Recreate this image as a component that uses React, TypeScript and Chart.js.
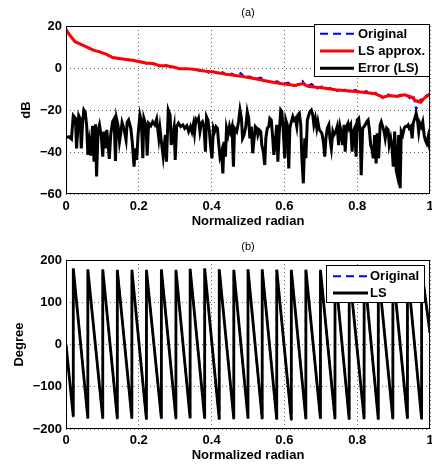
import React, { useEffect, useRef } from 'react';
import { Chart, registerables } from 'chart.js';

Chart.register(...registerables);

const FONT = "'Liberation Sans', Arial, Helvetica, sans-serif";

// ---------- (a) magnitude ----------
const lsX = [0, 0.01, 0.025, 0.04, 0.056, 0.075, 0.092, 0.11, 0.128, 0.147, 0.165, 0.183, 0.202, 0.22, 0.239, 0.257, 0.275, 0.294, 0.312, 0.33, 0.349, 0.367, 0.385, 0.405, 0.44, 0.485, 0.52, 0.557, 0.594, 0.63, 0.65, 0.667, 0.703, 0.74, 0.78, 0.815, 0.85, 0.87, 0.89, 0.91, 0.93, 0.95, 0.96, 0.975, 0.985, 1.0];
const lsDb = [18.4, 15.7, 12.5, 11.4, 10.1, 8.5, 7.7, 6.6, 5.0, 4.5, 4.0, 3.7, 3.0, 2.4, 2.1, 1.1, 1.1, 0.5, -0.3, -0.3, -0.6, -1.1, -1.6, -1.9, -3.0, -4.0, -5.1, -6.4, -7.5, -8.3, -7.4, -8.8, -9.4, -10.4, -11.0, -11.5, -12.3, -13.9, -13.1, -13.6, -12.8, -13.9, -15.5, -16.3, -14.2, -12.6];

const origX = [0, 0.01, 0.025, 0.04, 0.056, 0.075, 0.092, 0.11, 0.128, 0.147, 0.165, 0.183, 0.202, 0.22, 0.239, 0.257, 0.275, 0.294, 0.312, 0.33, 0.349, 0.367, 0.385, 0.395, 0.405, 0.42, 0.43, 0.44, 0.455, 0.47, 0.48, 0.49, 0.505, 0.52, 0.535, 0.55, 0.565, 0.58, 0.594, 0.61, 0.625, 0.64, 0.65, 0.66, 0.675, 0.69, 0.703, 0.715, 0.73, 0.745, 0.76, 0.78, 0.795, 0.81, 0.825, 0.84, 0.855, 0.87, 0.885, 0.9, 0.915, 0.93, 0.945, 0.955, 0.962, 0.97, 0.985, 1.0];
const origDb = [18.6, 15.5, 12.7, 11.2, 10.3, 8.3, 7.9, 6.4, 5.2, 4.3, 4.2, 3.5, 3.2, 2.2, 2.3, 0.9, 1.3, 0.3, -0.1, -0.5, -0.4, -1.3, -1.4, -2.6, -1.7, -2.8, -2.0, -3.2, -2.6, -3.9, -2.4, -4.2, -4.0, -5.3, -4.6, -6.0, -6.8, -6.3, -7.8, -7.0, -8.6, -7.5, -6.2, -8.9, -7.6, -9.8, -8.8, -10.0, -9.3, -10.9, -10.0, -11.4, -10.4, -11.9, -11.0, -12.5, -11.6, -14.3, -12.6, -13.9, -13.0, -12.3, -14.4, -13.4, -19.8, -15.8, -13.6, -12.2];

const errX = [0, 0.008, 0.015, 0.020, 0.026, 0.029, 0.035, 0.039, 0.042, 0.046, 0.049, 0.053, 0.057, 0.060, 0.064, 0.068, 0.073, 0.077, 0.081, 0.084, 0.088, 0.092, 0.097, 0.101, 0.104, 0.108, 0.112, 0.115, 0.119, 0.123, 0.128, 0.132, 0.136, 0.139, 0.143, 0.147, 0.150, 0.154, 0.159, 0.165, 0.168, 0.172, 0.178, 0.182, 0.187, 0.190, 0.194, 0.198, 0.203, 0.207, 0.211, 0.214, 0.220, 0.223, 0.227, 0.233, 0.238, 0.244,
  0.249, 0.255, 0.258, 0.262, 0.267, 0.273, 0.276, 0.281, 0.286, 0.289, 0.293, 0.297, 0.300, 0.304, 0.309, 0.315, 0.321, 0.326, 0.332, 0.337, 0.342, 0.346, 0.350, 0.353, 0.357, 0.361, 0.364, 0.368, 0.372, 0.375, 0.379, 0.383, 0.386, 0.390, 0.394, 0.397, 0.401, 0.405, 0.408, 0.412, 0.416, 0.419, 0.423, 0.427, 0.431, 0.434, 0.438, 0.441, 0.445, 0.449, 0.452, 0.456, 0.460, 0.463, 0.469, 0.474, 0.478, 0.482, 0.485, 0.489,
  0.494, 0.498, 0.502, 0.505, 0.509, 0.513, 0.516, 0.520, 0.524, 0.527, 0.531, 0.535, 0.538, 0.542, 0.546, 0.549, 0.553, 0.557, 0.560, 0.564, 0.568, 0.571, 0.575, 0.579, 0.582, 0.586, 0.590, 0.593, 0.597, 0.601, 0.604, 0.608, 0.612, 0.615, 0.619, 0.623, 0.626, 0.630, 0.634, 0.637, 0.641, 0.645, 0.648, 0.652, 0.656, 0.659, 0.663, 0.667, 0.670, 0.674, 0.678, 0.681, 0.685, 0.689, 0.692, 0.696, 0.700, 0.703, 0.707, 0.711, 0.714, 0.718, 0.722, 0.725, 0.729, 0.733, 0.736,
  0.741, 0.745, 0.749, 0.753, 0.756, 0.760, 0.764, 0.767, 0.771, 0.775, 0.778, 0.782, 0.786, 0.789, 0.793, 0.797, 0.800, 0.804, 0.808, 0.811, 0.815, 0.819, 0.822, 0.826, 0.830, 0.833, 0.837, 0.841, 0.844, 0.848, 0.852, 0.855, 0.859, 0.863, 0.866, 0.870, 0.874, 0.877, 0.881, 0.885, 0.888, 0.892, 0.896, 0.899, 0.903, 0.907, 0.910, 0.914, 0.918, 0.921, 0.925, 0.929, 0.932, 0.936, 0.940, 0.943, 0.947, 0.951, 0.954, 0.958, 0.962, 0.965, 0.969, 0.972, 0.976, 0.980, 0.984, 0.987, 0.991, 0.995, 0.998, 1.0];
const errDb = [-33.2, -32.7, -33.8, -22.7, -24.0, -38.3, -22.7, -24.3, -38.3, -24.8, -20.0, -21.1, -27.9, -41.4, -35.1, -41.7, -27.5, -44.6, -26.8, -51.7, -30.0, -27.1, -32.7, -42.2, -30.3, -38.3, -29.5, -35.1, -43.3, -31.6, -25.6, -24.3, -44.3, -24.3, -27.5, -35.1, -31.6, -25.9, -28.7, -34.3, -25.9, -24.8, -28.7, -35.1, -47.0, -38.3, -43.8, -31.9, -22.4, -25.6, -43.0, -24.0, -27.5, -41.7, -26.3, -27.5, -25.6, -27.1,
  -24.3, -33.5, -28.7, -35.1, -42.2, -31.9, -44.6, -20.0, -22.4, -36.7, -31.9, -27.9, -43.8, -27.9, -26.3, -27.9, -27.1, -28.7, -27.5, -30.3, -27.9, -30.3, -26.8, -31.1, -24.3, -25.2, -24.0, -30.3, -26.3, -25.6, -27.9, -39.8, -23.2, -24.8, -30.3, -36.7, -43.0, -28.7, -30.3, -27.9, -28.7, -35.1, -42.2, -39.8, -50.2, -35.1, -42.2, -28.7, -31.9, -27.9, -30.3, -27.9, -47.0, -28.7, -30.3, -25.6, -20.0, -24.0, -33.5, -31.9,
  -27.9, -20.8, -24.0, -33.5, -27.9, -40.6, -35.1, -27.9, -28.7, -31.9, -29.5, -30.3, -36.7, -39.8, -46.2, -33.5, -28.7, -27.9, -24.0, -24.8, -33.5, -41.4, -35.1, -27.1, -44.6, -30.3, -20.0, -20.8, -30.3, -43.0, -24.8, -27.1, -47.8, -28.7, -25.6, -23.2, -24.8, -24.0, -27.9, -22.4, -21.6, -27.1, -43.0, -54.9, -33.5, -43.0, -24.8, -22.4, -20.8, -20.0, -22.4, -27.1, -24.0, -28.7, -25.6, -29.5, -30.3, -31.1, -35.1, -42.2, -33.5, -28.7, -27.1, -33.5, -38.3, -30.3, -31.9,
  -30.3, -27.9, -36.7, -27.9, -30.3, -36.7, -27.1, -39.8, -27.9, -26.3, -28.7, -27.1, -39.8, -30.3, -28.7, -42.2, -24.8, -24.0, -30.3, -51.0, -28.7, -27.9, -27.1, -25.6, -24.8, -28.7, -36.7, -39.0, -43.0, -31.9, -45.4, -31.1, -43.0, -27.1, -25.6, -27.9, -30.3, -33.5, -28.7, -29.5, -36.7, -33.5, -38.3, -47.0, -30.3, -48.6, -51.0, -31.9, -57.3, -30.3, -31.9, -28.7, -27.9, -27.9, -27.1, -28.7, -27.9, -33.5, -26.3, -24.0, -21.6, -24.0, -30.3, -26.3, -27.9, -25.6, -31.9, -34.3, -35.9, -32.7, -36.7, -39.0];

const magXTicks = [0, 0.2, 0.4, 0.6, 0.8, 1];
const magYTicks = [-60, -40, -20, 0, 20];

// ---------- (b) phase ----------
const phaseX = [0, 0.020, 0.020, 0.060, 0.060, 0.101, 0.101, 0.141, 0.141, 0.181, 0.181, 0.221, 0.221, 0.262, 0.262, 0.302, 0.302, 0.341, 0.341, 0.381, 0.381, 0.421, 0.421, 0.461, 0.461, 0.500, 0.500, 0.539, 0.539, 0.579, 0.579, 0.619, 0.619, 0.659, 0.659, 0.699, 0.699, 0.739, 0.739, 0.778, 0.778, 0.819, 0.819, 0.858, 0.858, 0.898, 0.898, 0.938, 0.938, 0.977, 0.977, 1.0];
const lsDeg = [0, -170, 180, -174, 177, -175, 177, -175, 176, -175, 176, -177, 176, -175, 177, -175, 176, -174, 179, -175, 180, -177, 178, -176, 176, -175, 178, -176, 177, -177, 177, -178, 176, -176, 177, -175, 176, -176, 178, -177, 177, -176, 178, -177, 176, -176, 177, -175, 178, -176, 178, 27];
const origDeg = [1, -172, 179, -176, 178, -176, 178, -177, 177, -176, 177, -178, 177, -176, 178, -177, 177, -175, 178, -176, 179, -178, 177, -177, 177, -176, 177, -177, 178, -178, 176, -180, 177, -177, 176, -176, 177, -177, 177, -178, 178, -177, 177, -178, 177, -177, 176, -176, 177, -178, 177, 25];

const phaseXTicks = [0, 0.2, 0.4, 0.6, 0.8, 1];
const phaseYTicks = [-200, -100, 0, 100, 200];

const pts = (xs: number[], ys: number[]) => xs.map((x, i) => ({ x, y: ys[i] }));
const fmt = (v: number) => {
  const r = Math.round(v * 10) / 10;
  return r < 0 ? '\u2212' + String(Math.abs(r)) : String(r);
};

const matlabPlugin = {
  id: 'mlDeco',
  afterDatasetsDraw(chart: any, _args: any, opts: any) {
    const { ctx, chartArea: a } = chart;
    ctx.save();
    ctx.strokeStyle = '#000';
    ctx.lineWidth = 1;
    ctx.setLineDash([]);
    ctx.strokeRect(Math.round(a.left) + 0.5, Math.round(a.top) + 0.5, Math.round(a.width) - 1, Math.round(a.height) - 1);
    ctx.fillStyle = '#000';
    ctx.font = `11px ${FONT}`;
    ctx.textAlign = 'center';
    ctx.textBaseline = 'middle';
    ctx.fillText(opts.title, (a.left + a.right) / 2, opts.titleY);
    const L = opts.legend;
    const bx = a.right - L.right - L.width;
    const by = a.top + L.top;
    ctx.fillStyle = '#fff';
    ctx.fillRect(bx, by, L.width, L.height);
    ctx.strokeStyle = '#000';
    ctx.lineWidth = 1;
    ctx.strokeRect(Math.round(bx) + 0.5, Math.round(by) + 0.5, L.width - 1, L.height - 1);
    chart.data.datasets.forEach((ds: any, i: number) => {
      const cy = by + L.firstRow + i * L.rowGap;
      ctx.beginPath();
      ctx.strokeStyle = ds.borderColor;
      ctx.lineWidth = ds.borderWidth;
      ctx.setLineDash(ds.borderDash ? L.dash : []);
      ctx.moveTo(bx + L.sampleStart, cy);
      ctx.lineTo(bx + L.sampleStart + L.sampleLen, cy);
      ctx.stroke();
      ctx.setLineDash([]);
      ctx.fillStyle = '#000';
      ctx.font = `bold 13px ${FONT}`;
      ctx.textAlign = 'left';
      ctx.textBaseline = 'middle';
      ctx.fillText(ds.label, bx + L.textX, cy + 0.5);
    });
    ctx.restore();
  },
};

function makeScales(xTicks: number[], yTicks: number[], yTitle: string, xHeight: number, xTickPad: number, xTitlePad: number, yTitlePad: number) {
  const font = { family: FONT, size: 13, weight: 'bold' as const };
  const grid = { color: 'rgba(0,0,0,0.6)', lineWidth: 1, drawTicks: false };
  return {
    x: {
      type: 'linear' as const,
      min: xTicks[0],
      max: xTicks[xTicks.length - 1],
      afterBuildTicks: (s: any) => { s.ticks = xTicks.map((v) => ({ value: v })); },
      ticks: { padding: xTickPad, font, color: '#000', callback: (v: any) => fmt(Number(v)), maxRotation: 0 },
      grid,
      border: { display: false, dash: [1, 3] },
      title: { display: true, text: 'Normalized radian', font, color: '#000', padding: { top: 0, bottom: xTitlePad } },
      afterFit: (s: any) => { s.height = xHeight; s.paddingLeft = 0; s.paddingRight = 0; },
    },
    y: {
      type: 'linear' as const,
      min: yTicks[0],
      max: yTicks[yTicks.length - 1],
      afterBuildTicks: (s: any) => { s.ticks = yTicks.map((v) => ({ value: v })); },
      ticks: { padding: 4, font, color: '#000', callback: (v: any) => fmt(Number(v)) },
      grid,
      border: { display: false, dash: [1, 3] },
      title: { display: true, text: yTitle, font, color: '#000', padding: { top: yTitlePad, bottom: 0 } },
      afterFit: (s: any) => { s.width = 66; s.paddingTop = 0; s.paddingBottom = 0; },
    },
  };
}

function magConfig(): any {
  return {
    type: 'line',
    data: {
      datasets: [
        { label: 'Original', data: pts(origX, origDb), borderColor: '#0000ff', borderWidth: 2, borderDash: [6, 4], pointRadius: 0, order: 3 },
        { label: 'LS approx.', data: pts(lsX, lsDb), borderColor: '#ff0000', borderWidth: 3, pointRadius: 0, order: 2 },
        { label: 'Error (LS)', data: pts(errX, errDb), borderColor: '#000000', borderWidth: 3, pointRadius: 0, order: 1 },
      ],
    },
    options: {
      animation: false,
      responsive: false,
      devicePixelRatio: 1,
      layout: { padding: { top: 26, right: 2, left: 0, bottom: 0 } },
      plugins: {
        legend: { display: false },
        tooltip: { enabled: false },
        title: { display: false },
        mlDeco: {
          title: '(a)', titleY: 12.5,
          legend: { right: 0, top: -2, width: 116, height: 53, firstRow: 9.7, rowGap: 17.3, sampleStart: 6, sampleLen: 34, textX: 44, dash: [8, 5] },
        },
      },
      scales: makeScales(magXTicks, magYTicks, 'dB', 38, 5, 3, 19),
    },
    plugins: [matlabPlugin],
  };
}

function phaseConfig(): any {
  return {
    type: 'line',
    data: {
      datasets: [
        { label: 'Original', data: pts(phaseX, origDeg), borderColor: '#0000ff', borderWidth: 2, borderDash: [6, 4], pointRadius: 0, order: 2 },
        { label: 'LS', data: pts(phaseX, lsDeg), borderColor: '#000000', borderWidth: 2.8, pointRadius: 0, order: 1 },
      ],
    },
    options: {
      animation: false,
      responsive: false,
      devicePixelRatio: 1,
      layout: { padding: { top: 28, right: 2, left: 0, bottom: 0 } },
      plugins: {
        legend: { display: false },
        tooltip: { enabled: false },
        title: { display: false },
        mlDeco: {
          title: '(b)', titleY: 15,
          legend: { right: 5, top: 5, width: 99, height: 38, firstRow: 11.3, rowGap: 16.7, sampleStart: 7, sampleLen: 35, textX: 44, dash: [8, 5] },
        },
      },
      scales: makeScales(phaseXTicks, phaseYTicks, 'Degree', 35, 4, 1, 12),
    },
    plugins: [matlabPlugin],
  };
}

function PlotCanvas({ make }: { make: () => any }) {
  const ref = useRef<HTMLCanvasElement | null>(null);
  useEffect(() => {
    if (!ref.current) return;
    const chart = new Chart(ref.current, make());
    return () => chart.destroy();
  }, [make]);
  return <canvas ref={ref} width={432} height={232} style={{ display: 'block', width: 432, height: 232 }} />;
}

export default function App() {
  return (
    <div style={{ position: 'absolute', left: 0, top: 0, width: 432, height: 464, background: '#fff' }}>
      <PlotCanvas make={magConfig} />
      <PlotCanvas make={phaseConfig} />
    </div>
  );
}
